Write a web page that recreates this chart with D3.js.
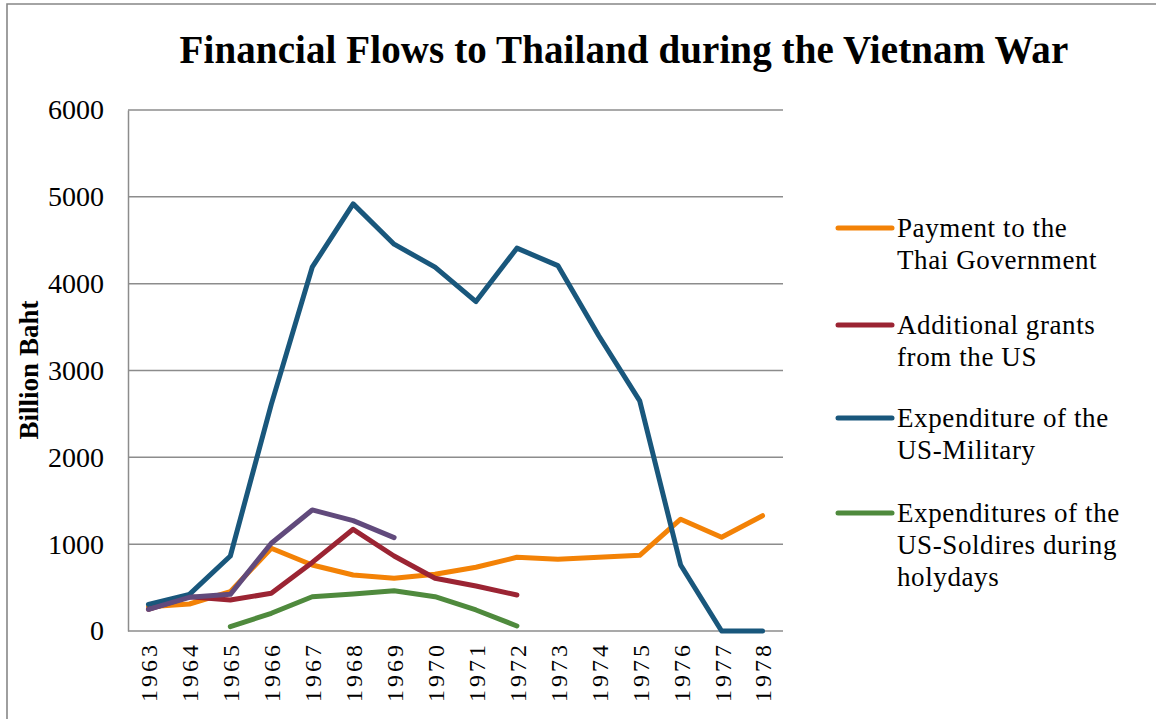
<!DOCTYPE html>
<html>
<head>
<meta charset="utf-8">
<script src="https://cdn.jsdelivr.net/npm/d3@7/dist/d3.min.js"></script>
<style>
  html, body { margin: 0; padding: 0; background: #fff; }
  svg { display: block; }
  text { font-family: "Liberation Serif", "DejaVu Serif", serif; fill: #000; }
</style>
</head>
<body>
<svg id="chart" width="1156" height="719"></svg>
<script>
// Financial flows to Thailand, billion baht per year
const years = [1963, 1964, 1965, 1966, 1967, 1968, 1969, 1970, 1971, 1972, 1973, 1974, 1975, 1976, 1977, 1978];
const paymentThaiGov = [280, 311, 453, 953, 760, 645, 607, 653, 734, 849, 826, 849, 872, 1287, 1079, 1328];
const grantsUS = [250, 395, 357, 434, 790, 1171, 864, 607, 518, 415, null, null, null, null, null, null];
const militaryUS = [307, 422, 864, 2610, 4190, 4919, 4455, 4190, 3794, 4409, 4208, 3400, 2650, 760, 0, 0];
const soldiersHolidays = [null, null, 50, 204, 395, 426, 464, 395, 242, 58, null, null, null, null, null, null];
const unlabeled = [250, 388, 422, 1010, 1394, 1271, 1075, null, null, null, null, null, null, null, null, null];
const yTicks = [0, 1000, 2000, 3000, 4000, 5000, 6000];

const seriesNames = [
  ["Payment to the", "Thai Government"],
  ["Additional grants", "from the US"],
  ["Expenditure of the", "US-Military"],
  ["Expenditures of the", "US-Soldires during", "holydays"]
];
const seriesColors = ["#f38206", "#9b2433", "#19577c", "#4f8a3d", "#614a7c"];
const seriesValues = [paymentThaiGov, grantsUS, militaryUS, soldiersHolidays, unlabeled];

const svg = d3.select("#chart");
const plot = { left: 128, right: 783, top: 110, bottom: 631 };

const x = d3.scalePoint().domain(years).range([plot.left, plot.right]).padding(0.5);
const y = d3.scaleLinear().domain([0, 6000]).range([plot.bottom, plot.top]);

// outer frame (top and left edges)
svg.append("path")
  .attr("d", "M7,719 L7,4 L1156,4")
  .attr("fill", "none").attr("stroke", "#878787").attr("stroke-width", 1.6);

// title
svg.append("text")
  .attr("x", 624).attr("y", 63)
  .attr("text-anchor", "middle")
  .style("font-size", "39px").style("font-weight", "bold")
  .style("letter-spacing", "0.1px")
  .text("Financial Flows to Thailand during the Vietnam War");

// horizontal gridlines
svg.append("g").selectAll("line")
  .data(yTicks.filter(d => d > 0))
  .join("line")
  .attr("x1", plot.left).attr("x2", plot.right)
  .attr("y1", d => y(d)).attr("y2", d => y(d))
  .attr("stroke", "#8c8c8c").attr("stroke-width", 1.5);

// y axis
const yAxis = svg.append("g")
  .attr("transform", `translate(${plot.left},0)`)
  .call(d3.axisLeft(y).tickValues(yTicks).tickSize(0).tickPadding(24).tickFormat(d3.format("d")));
yAxis.select(".domain").attr("stroke", "#8c8c8c").attr("stroke-width", 1.5);
yAxis.selectAll("text")
  .style("font-family", "\"Liberation Serif\", serif")
  .style("font-size", "28px").attr("fill", "#000");

// x axis with vertical year labels
const xAxis = svg.append("g")
  .attr("transform", `translate(0,${plot.bottom})`)
  .call(d3.axisBottom(x).tickSize(0).tickFormat(d3.format("d")));
xAxis.select(".domain").attr("stroke", "#8c8c8c").attr("stroke-width", 1.5)
  .attr("d", `M${plot.left},0H${plot.right}`);
xAxis.selectAll("text")
  .style("font-family", "\"Liberation Serif\", serif")
  .style("font-size", "24px").attr("fill", "#000")
  .style("letter-spacing", "3px")
  .attr("text-anchor", "end")
  .attr("dy", "0.35em")
  .attr("transform", "translate(0,11) rotate(-90)")
  .attr("x", 0).attr("y", 0);

// y axis title
svg.append("text")
  .attr("transform", "translate(38,370) rotate(-90)")
  .attr("text-anchor", "middle")
  .style("font-size", "27px").style("font-weight", "bold")
  .text("Billion Baht");

// lines
const line = d3.line()
  .defined(d => d.v !== null)
  .x(d => x(d.year))
  .y(d => y(d.v));

svg.append("g").selectAll("path")
  .data(seriesValues.map((vals, i) => ({ color: seriesColors[i], pts: years.map((yr, j) => ({ year: yr, v: vals[j] })) })))
  .join("path")
  .attr("d", d => line(d.pts))
  .attr("fill", "none")
  .attr("stroke", d => d.color)
  .attr("stroke-width", 5)
  .attr("stroke-linejoin", "round")
  .attr("stroke-linecap", "round");

// legend
const legendY = [228, 325, 418, 513];
const legend = svg.append("g").selectAll("g")
  .data(seriesNames)
  .join("g")
  .attr("transform", (d, i) => `translate(838,${legendY[i]})`);
legend.append("line")
  .attr("x1", 0).attr("x2", 54).attr("y1", 0).attr("y2", 0)
  .attr("stroke", (d, i) => seriesColors[i])
  .attr("stroke-width", 5).attr("stroke-linecap", "round");
legend.append("text")
  .attr("x", 59).attr("y", 9)
  .style("font-size", "27px")
  .style("letter-spacing", "0.6px")
  .selectAll("tspan")
  .data(d => d)
  .join("tspan")
  .attr("x", 59)
  .attr("dy", (d, i) => i === 0 ? 0 : 32)
  .text(d => d);
</script>
</body>
</html>
